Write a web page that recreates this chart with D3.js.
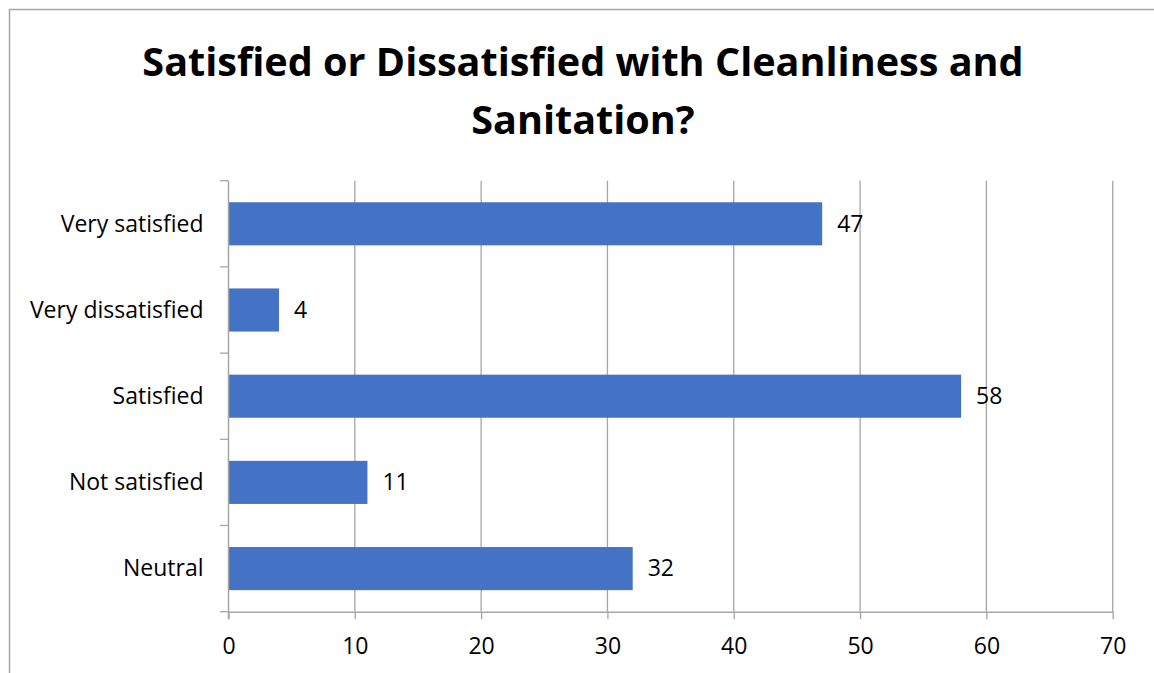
<!DOCTYPE html>
<html>
<head>
<meta charset="utf-8">
<script src="https://cdn.jsdelivr.net/npm/d3@7"></script>
<style>
  html, body { margin: 0; padding: 0; background: #fff; }
  svg { display: block; }
</style>
</head>
<body>
<svg id="chart" width="1154" height="673"></svg>
<script>
// Survey responses: satisfaction with cleanliness and sanitation
const categories = ["Very satisfied", "Very dissatisfied", "Satisfied", "Not satisfied", "Neutral"];
const counts = [47, 4, 58, 11, 32];
const xTicks = [0, 10, 20, 30, 40, 50, 60, 70];
const titleLines = ["Satisfied or Dissatisfied with Cleanliness and", "Sanitation?"];

const W = 1154, H = 673;
const margin = { left: 228.5, right: W - 1112.7, top: 180.7, bottom: H - 611.7 };
const font = "'Open Sans', Lato, 'Liberation Sans', sans-serif";
const labelSize = 23;
const gridColor = "#a6a6a6";

const svg = d3.select("#chart");

// Outer frame (left and top edges are visible)
svg.append("path")
  .attr("d", `M9.5,${H} V9.5 H${W}`)
  .attr("fill", "none")
  .attr("stroke", "#a6a6a6")
  .attr("stroke-width", 1.5);

// Title
svg.append("g").selectAll("text")
  .data(titleLines)
  .join("text")
  .attr("x", 583)
  .attr("y", (d, i) => 76 + i * 58)
  .attr("text-anchor", "middle")
  .attr("font-family", font)
  .attr("font-weight", "bold")
  .attr("font-size", 39.6)
  .attr("fill", "#000")
  .text(d => d);

const x = d3.scaleLinear()
  .domain([0, 70])
  .range([margin.left, W - margin.right]);

const y = d3.scaleBand()
  .domain(categories)
  .range([margin.top, H - margin.bottom])
  .paddingInner(0.5)
  .paddingOuter(0.25);

// Vertical gridlines
svg.append("g").selectAll("line")
  .data(xTicks.filter(t => t > 0))
  .join("line")
  .attr("x1", d => x(d)).attr("x2", d => x(d))
  .attr("y1", margin.top).attr("y2", H - margin.bottom)
  .attr("stroke", gridColor)
  .attr("stroke-width", 1.3);

// Bars
svg.append("g").selectAll("rect")
  .data(categories)
  .join("rect")
  .attr("x", x(0))
  .attr("y", d => y(d))
  .attr("width", (d, i) => x(counts[i]) - x(0))
  .attr("height", y.bandwidth())
  .attr("fill", "#4472c4");

// Value labels
svg.append("g").selectAll("text")
  .data(categories)
  .join("text")
  .attr("x", (d, i) => x(counts[i]) + 15)
  .attr("y", d => y(d) + y.bandwidth() / 2)
  .attr("dy", "0.34em")
  .attr("font-family", font)
  .attr("font-size", labelSize)
  .attr("fill", "#000")
  .text((d, i) => counts[i]);

// Bottom value axis
const xAxis = svg.append("g")
  .attr("transform", `translate(0,${H - margin.bottom})`)
  .call(d3.axisBottom(x).tickValues(xTicks).tickSize(7.5).tickPadding(18).tickSizeOuter(0));
xAxis.select(".domain").attr("stroke", gridColor).attr("stroke-width", 1.5);
xAxis.selectAll(".tick line").attr("stroke", gridColor).attr("stroke-width", 1.3);
xAxis.selectAll(".tick text")
  .attr("font-family", font)
  .attr("font-size", labelSize)
  .attr("fill", "#000");

// Left category axis with boundary ticks
const yAxis = svg.append("g")
  .attr("transform", `translate(${x(0)},0)`);
yAxis.append("line")
  .attr("x1", 0).attr("x2", 0)
  .attr("y1", margin.top).attr("y2", H - margin.bottom + 7.5)
  .attr("stroke", gridColor).attr("stroke-width", 1.5);
const step = y.step();
const boundaries = d3.range(categories.length + 1).map(i => margin.top + i * step);
yAxis.selectAll("line.bound")
  .data(boundaries)
  .join("line")
  .attr("class", "bound")
  .attr("x1", -8.5).attr("x2", 0)
  .attr("y1", d => d).attr("y2", d => d)
  .attr("stroke", gridColor).attr("stroke-width", 1.3);
yAxis.selectAll("text")
  .data(categories)
  .join("text")
  .attr("x", -25)
  .attr("y", d => y(d) + y.bandwidth() / 2)
  .attr("dy", "0.34em")
  .attr("text-anchor", "end")
  .attr("font-family", font)
  .attr("font-size", labelSize)
  .attr("fill", "#000")
  .text(d => d);
</script>
</body>
</html>
